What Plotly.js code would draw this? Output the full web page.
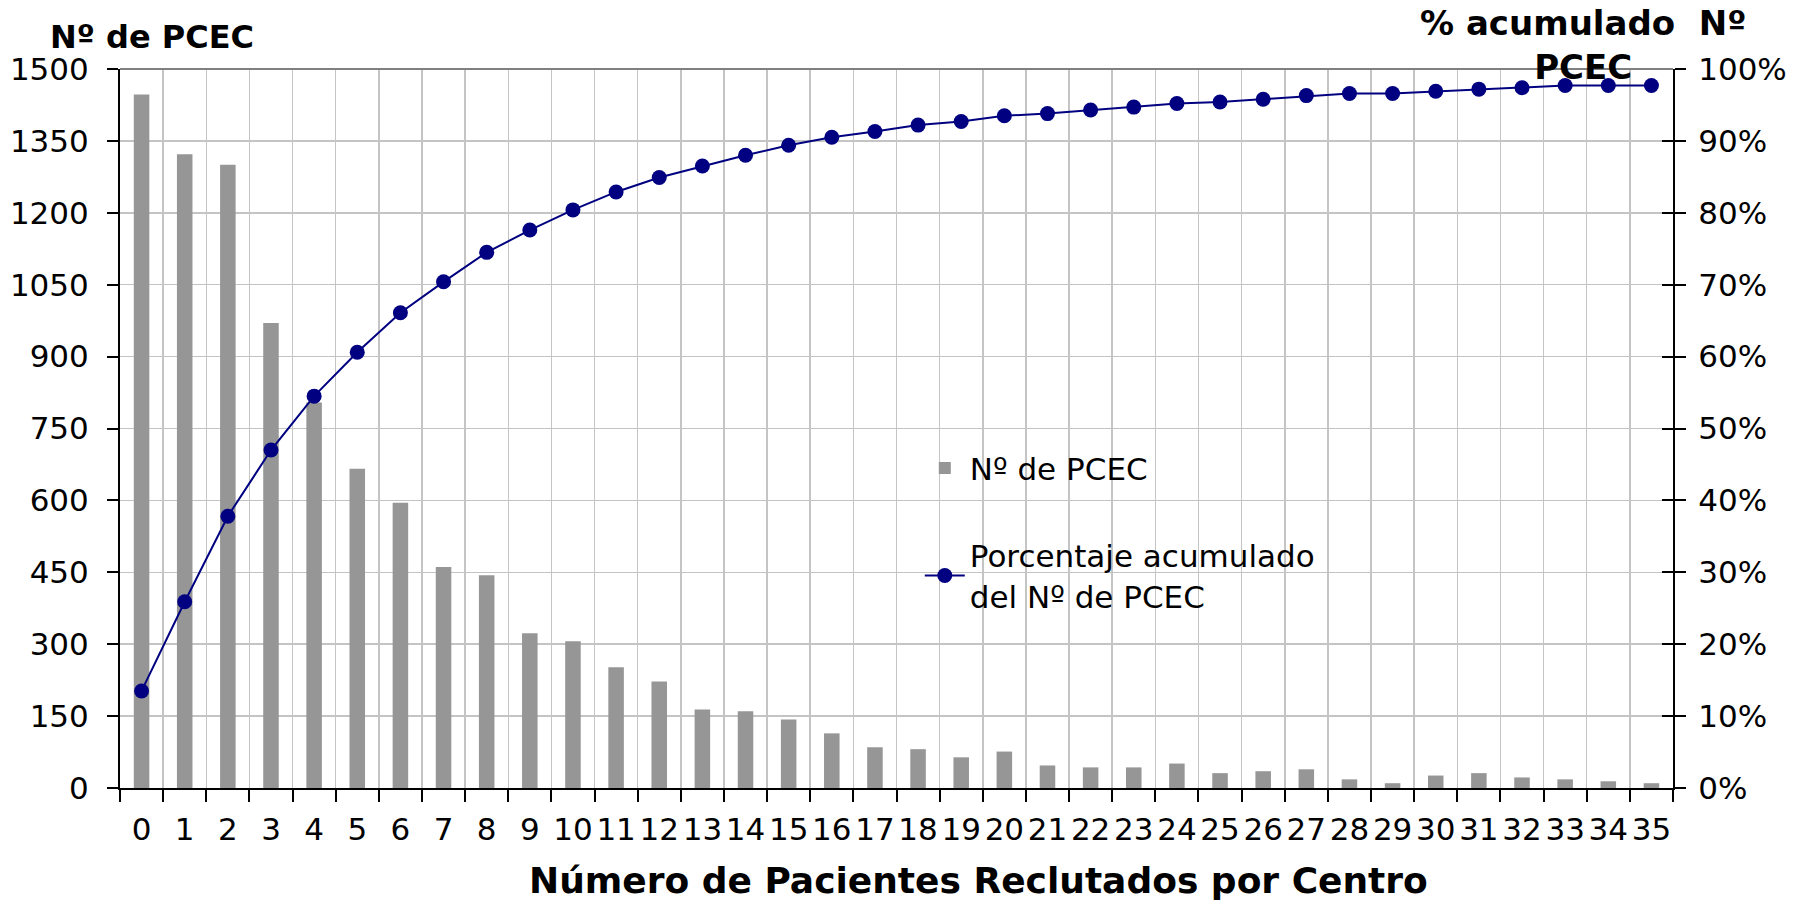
<!DOCTYPE html>
<html>
<head>
<meta charset="utf-8">
<script src="https://cdn.plot.ly/plotly-3.0.1.min.js"></script>
<style>html,body{margin:0;padding:0;background:#fff;}#chart{width:1806px;height:900px;}</style>
</head>
<body>
<div id="chart"></div>
<script>
const categories = ['0','1','2','3','4','5','6','7','8','9','10','11','12','13','14','15','16','17','18','19','20','21','22','23','24','25','26','27','28','29','30','31','32','33','34','35'];
const counts = [1447,1322,1300,970,804,666,595,461,444,323,306,252,222,164,160,143,114,85,81,64,76,47,43,43,51,31,35,39,18,10,26,31,22,18,14,10];
const cumPct = [13.5,25.9,37.8,47.0,54.5,60.6,66.1,70.4,74.5,77.6,80.4,82.9,84.9,86.5,88.0,89.4,90.5,91.3,92.2,92.7,93.5,93.8,94.3,94.7,95.2,95.4,95.8,96.3,96.6,96.6,96.9,97.2,97.4,97.7,97.7,97.7];
const barName = 'Nº de PCEC';
const lineName = 'Porcentaje acumulado<br>del Nº de PCEC';
const leftTitle = 'Nº de PCEC';
const rightTitle = '% acumulado  Nº<br>PCEC';
const xTitle = 'Número de Pacientes Reclutados por Centro';

const FONT = 'DejaVu Sans, Verdana, sans-serif';

const traces = [
  {type:'bar', x:categories, y:counts, name:barName, marker:{color:'#969696'}, width:0.36,
   legendgroup:'a', hoverinfo:'x+y'},
  {type:'scatter', mode:'lines+markers', x:categories, y:cumPct, yaxis:'y2', name:lineName,
   line:{color:'#000080', width:2}, marker:{color:'#000080', size:15}, legendgroup:'b'},
  {type:'scatter', mode:'markers', x:[], y:[], yaxis:'y3', showlegend:false, hoverinfo:'skip'}
];

const layout = {
  width:1806, height:900,
  margin:{l:120, r:133, t:69, b:112},
  paper_bgcolor:'#fff', plot_bgcolor:'#fff',
  font:{family:FONT, size:31, color:'#000'},
  showlegend:true,
  legend:{x:0.515, y:0.482, xanchor:'left', yanchor:'top', bgcolor:'rgba(0,0,0,0)',
          font:{family:FONT, size:31, color:'#000'}, traceorder:'grouped', tracegroupgap:44,
          itemwidth:40},
  xaxis:{type:'category', range:[-0.5,35.5], tickson:'boundaries', ticks:'outside', ticklen:12, tickwidth:2, tickcolor:'#000',
         showline:true, linecolor:'#000', linewidth:2, showgrid:true, gridcolor:'#c4c4c4', gridwidth:1.5,
         tickfont:{family:FONT, size:31}, tickangle:0, ticklabelstandoff:13, zeroline:false},
  yaxis:{range:[0,1500], dtick:150, tick0:0, ticks:'outside', ticklen:11, tickwidth:2, tickcolor:'#000',
         showline:true, linecolor:'#000', linewidth:2, showgrid:true, gridcolor:'#c4c4c4', gridwidth:1.5,
         zeroline:false, tickfont:{family:FONT, size:31}, ticklabelstandoff:12},
  yaxis2:{overlaying:'y', side:'right', range:[0,100], dtick:10, tick0:0, ticksuffix:'%',
          ticks:'outside', ticklen:11, tickwidth:2, tickcolor:'#000', showline:true, linecolor:'#000', linewidth:2,
          showgrid:false, zeroline:false, tickfont:{family:FONT, size:31}, ticklabelstandoff:6},
  yaxis3:{overlaying:'y', side:'right', range:[0,100], dtick:10, tick0:0, ticks:'inside', ticklen:11, tickwidth:2,
          tickcolor:'#000', showticklabels:false, showline:false, showgrid:false, zeroline:false},
  shapes:[
    {type:'rect', xref:'paper', yref:'paper', x0:0.4932, x1:0.7914, y0:0.2378, y1:0.4701,
     fillcolor:'#fff', line:{width:0}, layer:'between'},
    {type:'line', xref:'paper', yref:'paper', x0:0, x1:1, y0:1, y1:1, line:{color:'#808080', width:2}}
  ],
  annotations:[
    {text:'<b>'+leftTitle+'</b>', xref:'paper', yref:'paper', x:-0.0464, y:1.0445, xanchor:'left', yanchor:'middle',
     showarrow:false, font:{family:FONT, size:32, color:'#000'}},
    {text:'<b>'+rightTitle+'</b>', xref:'paper', yref:'paper', x:0.942, y:1.033, xanchor:'center', yanchor:'middle',
     align:'center', showarrow:false, font:{family:FONT, size:34, color:'#000'}},
    {text:'<b>'+xTitle+'</b>', xref:'paper', yref:'paper', x:0.5531, y:-0.1293, xanchor:'center', yanchor:'middle',
     showarrow:false, font:{family:FONT, size:36, color:'#000'}}
  ]
};

Plotly.newPlot('chart', traces, layout, {displayModeBar:false, staticPlot:true});
</script>
</body>
</html>
